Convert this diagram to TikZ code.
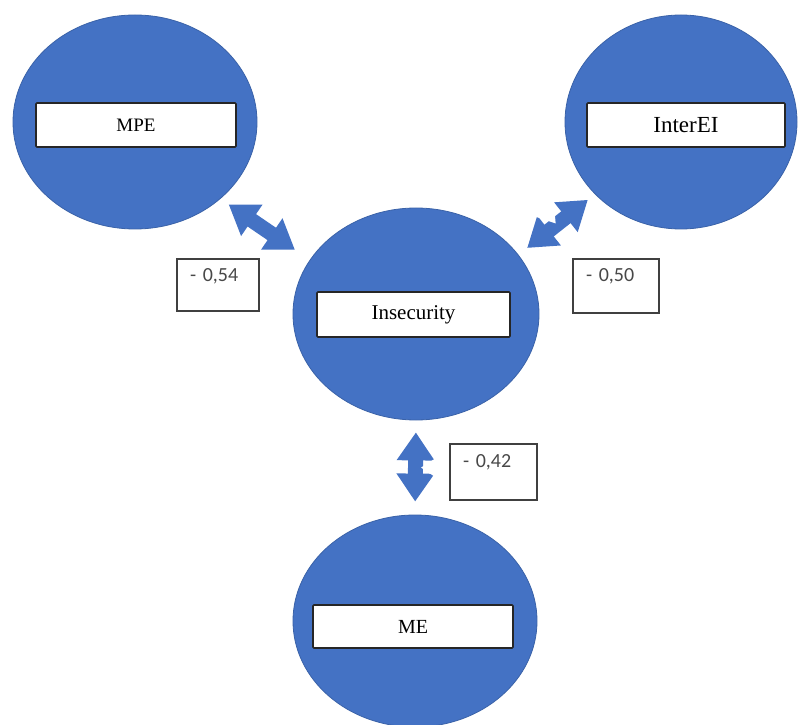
\documentclass[tikz,border=0pt]{standalone}
\usepackage{fontspec}
\setmainfont{Liberation Serif}
\newfontfamily\numfont{Carlito}
\usepackage{xcolor}
\usepackage{tikz}
\usetikzlibrary{shapes.geometric,arrows.meta,decorations.markings}
\definecolor{factorblue}{HTML}{4472C4}
\definecolor{factoredge}{HTML}{3A62A8}
\definecolor{coefgray}{HTML}{484848}

\begin{document}
\begin{tikzpicture}[x=1pt, y=1pt,
	latent/.style={ellipse, fill=factorblue, draw=factoredge, line width=0.8pt, inner sep=0pt},
	namebox/.style={rectangle, fill=white, draw=black!85, line width=1.6pt, rounded corners=1pt, inner sep=0pt},
	coef/.style={rectangle, fill=white, draw=black!75, line width=1.6pt, inner xsep=13pt, inner ysep=9pt,
		text height=14pt, align=left, font=\numfont\fontsize{20}{22}\selectfont, text=coefgray},
	link/.style={factorblue, line width=15pt, {Triangle[width=36pt,length=28pt]}-{Triangle[width=36pt,length=28pt]},
		postaction={decorate, decoration={markings, mark=at position 0.5 with
			{\draw[white, line width=2pt, dash pattern=on 4pt off 7pt on 4pt] (0,7.5) -- (0,-7.5);}}}},
	]

\path[use as bounding box, fill=white] (0,0) rectangle (798,724);

\node[latent, minimum width=244pt, minimum height=214pt] (MPE) at (135,602) {};
\node[latent, minimum width=232pt, minimum height=214pt] (InterEI) at (681,602) {};
\node[latent, minimum width=246pt, minimum height=212pt] (Ins) at (416,410) {};
\node[latent, minimum width=244pt, minimum height=212pt] (ME) at (415,103) {};

\draw[link, shorten <=10pt, shorten >=18pt] (MPE.-42.7) -- (Ins.153);
\draw[link, shorten <=11pt, shorten >=9pt] (Ins.30.7) -- (InterEI.220.3);
\draw[link, shorten <=12pt, shorten >=13pt] (Ins.south) -- (ME.north);

\node[namebox, minimum width=200pt, minimum height=44pt, font=\fontsize{19}{22}\selectfont] (MPEbox) at (136,599) {MPE};
\node[namebox, minimum width=198pt, minimum height=44pt, font=\fontsize{23}{26}\selectfont] (InterEIbox) at (686,599) {InterEI};
\node[namebox, minimum width=193pt, minimum height=45pt, font=\fontsize{21}{24}\selectfont] (Insbox) at (413.5,409.5) {Insecurity};
\node[namebox, minimum width=200pt, minimum height=43pt, font=\fontsize{20}{23}\selectfont] (MEbox) at (413,97.5) {ME};

\node[coef, text width=56pt, text depth=20pt] (coefMPE) at (218,439) {- 0,54};
\node[coef, text width=60pt, text depth=22pt] (coefInterEI) at (616,438) {- 0,50};
\node[coef, text width=61pt, text depth=24pt] (coefME) at (493.5,252) {- 0,42};

\end{tikzpicture}
\end{document}
